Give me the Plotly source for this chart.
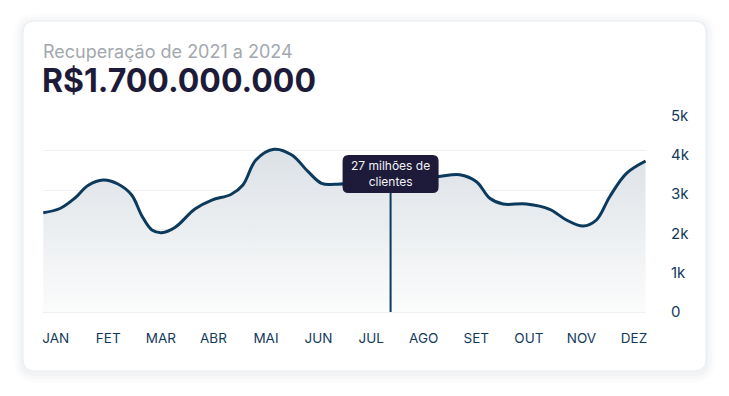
import plotly.graph_objects as go

# ---------------- data ----------------
months = ["JAN", "FET", "MAR", "ABR", "MAI", "JUN", "JUL", "AGO", "SET", "OUT", "NOV", "DEZ"]
month_pos = list(range(12))

# curve sample points (x in month units, y in clients)
curve_x = [-0.236, 0.082, 0.367, 0.614, 0.905, 1.184, 1.445, 1.641, 1.831, 2.015,
           2.268, 2.648, 2.971, 3.333, 3.561, 3.808, 4.156, 4.492, 4.802, 5.057,
           5.310, 6.356, 7.249, 7.686, 8.004, 8.257, 8.510, 8.954, 9.397, 9.715,
           10.030, 10.285, 10.538, 10.856, 11.22]
curve_y = [2525, 2632, 2899, 3217, 3357, 3255, 2976, 2442, 2085, 2017,
           2149, 2620, 2848, 2988, 3230, 3866, 4138, 3993, 3568, 3273,
           3248, 3357, 3441, 3492, 3314, 2892, 2747, 2747, 2612, 2340,
           2187, 2340, 2932, 3527, 3840]

y_ticks = [0, 1000, 2000, 3000, 4000, 5000]
y_tick_labels = ["0", "1k", "2k", "3k", "4k", "5k"]

subtitle = "Recuperação de 2021 a 2024"
headline = "R$1.700.000.000"
tooltip_text = "27 milhões de<br>clientes"
tooltip_x = 6.37
tooltip_y = 3510
tooltip_line_top = 3026

LINE = "#0b3a5c"
NAVY = "#1e1b3a"
TICK = "#123a5c"
GRID = "#eef0f3"
FONT = "Inter"


def rounded(x0, y0, x1, y1, r):
    return (f"M {x0+r},{y0} L {x1-r},{y0} Q {x1},{y0} {x1},{y0+r} "
            f"L {x1},{y1-r} Q {x1},{y1} {x1-r},{y1} L {x0+r},{y1} "
            f"Q {x0},{y1} {x0},{y1-r} L {x0},{y0+r} Q {x0},{y0} {x0+r},{y0} Z")


fig = go.Figure()

# invisible trace so the grid axis is drawn
fig.add_trace(go.Scatter(x=curve_x, y=curve_y, yaxis="y2", mode="lines",
                         line=dict(width=0), opacity=0, hoverinfo="skip",
                         showlegend=False))

fig.add_trace(go.Scatter(
    x=curve_x, y=curve_y, mode="lines",
    line=dict(color=LINE, width=3, shape="spline", smoothing=1.0),
    fill="tozeroy",
    fillgradient=dict(type="vertical",
                      colorscale=[[0, "rgba(251,252,252,1)"], [1, "rgba(220,225,230,1)"]]),
    hoverinfo="skip", showlegend=False))

shapes = []
# card shadow + card
for grow, alpha in [(9, 0.012), (6, 0.018), (3, 0.025)]:
    shapes.append(dict(type="path", xref="paper", yref="paper", xsizemode="pixel",
                       ysizemode="pixel", xanchor=0, yanchor=0,
                       path=rounded(-20 - grow, -59 - grow - 2, 663 + grow, 291 + grow - 2, 12 + grow),
                       fillcolor=f"rgba(20,40,70,{alpha})", line=dict(width=0), layer="below"))
shapes.append(dict(type="path", xref="paper", yref="paper", xsizemode="pixel",
                   ysizemode="pixel", xanchor=0, yanchor=0,
                   path=rounded(-20, -59, 663, 291, 12),
                   fillcolor="white", line=dict(color="#e9edf0", width=1), layer="below"))
# tooltip guide line
shapes.append(dict(type="line", xref="x", yref="y", x0=tooltip_x, x1=tooltip_x,
                   y0=0, y1=tooltip_line_top, line=dict(color=LINE, width=2), layer="above"))
# tooltip box
shapes.append(dict(type="path", xref="x", yref="y", xsizemode="pixel", ysizemode="pixel",
                   xanchor=tooltip_x, yanchor=tooltip_y,
                   path=rounded(-48, -19, 48, 19, 6),
                   fillcolor=NAVY, line=dict(width=0), layer="above"))

annotations = [
    dict(text=subtitle, xref="paper", yref="paper", x=0, y=1, xanchor="left",
         yanchor="middle", yshift=60, xshift=-2, showarrow=False,
         font=dict(family=FONT, size=18, color="#a3a8ae")),
    dict(text=f"<b>{headline}</b>", xref="paper", yref="paper", x=0, y=1, xanchor="left",
         yanchor="middle", yshift=31, xshift=-3, showarrow=False,
         font=dict(family=FONT, size=32, color=NAVY)),
    dict(text=tooltip_text, xref="x", yref="y", x=tooltip_x, y=tooltip_y,
         xanchor="center", yanchor="middle", showarrow=False,
         font=dict(family=FONT, size=12, color="#f2f2f7")),
]

# the page body has an 8px margin, so the figure is offset by 8px
fig.update_layout(
    width=721, height=388,
    margin=dict(l=35, r=83, t=103, b=84),
    paper_bgcolor="white", plot_bgcolor="rgba(0,0,0,0)",
    hovermode=False, showlegend=False,
    shapes=shapes, annotations=annotations,
    xaxis=dict(range=[-0.241, 11.228], tickvals=month_pos, ticktext=months,
               showgrid=False, zeroline=False, showline=True, linecolor=GRID, linewidth=1,
               ticks="", ticklabelstandoff=14,
               tickfont=dict(family=FONT, size=13.5, color=TICK), fixedrange=True),
    yaxis=dict(range=[0, 5112], side="right", tickvals=y_ticks, ticktext=y_tick_labels,
               showgrid=False, zeroline=False, ticks="", ticklabelstandoff=24,
               tickfont=dict(family=FONT, size=15, color=TICK), fixedrange=True),
    yaxis2=dict(range=[-102, 5010], overlaying="y", side="left", tickvals=y_ticks[1:],
                showticklabels=False, showgrid=True, gridcolor=GRID, gridwidth=1,
                zeroline=False, ticks="", fixedrange=True),
)

fig.write_html("out.html")
